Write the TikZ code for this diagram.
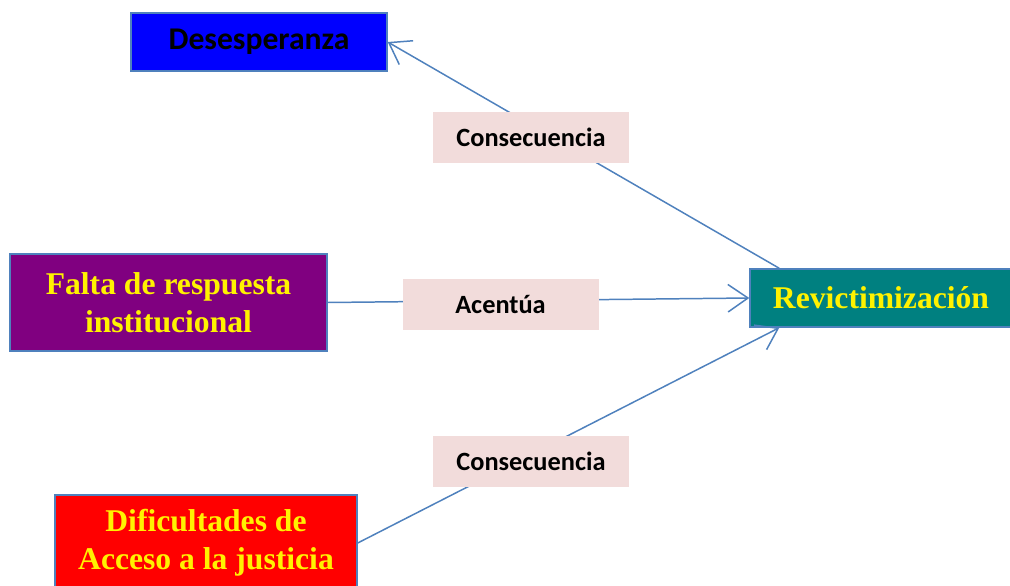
\documentclass[tikz,border=0pt]{standalone}
\usepackage{fontspec}
\setmainfont{Liberation Serif}
\newfontfamily\calibri{Carlito}
\usepackage{tikz}
\usetikzlibrary{arrows.meta,shapes}
\definecolor{linea}{RGB}{79,129,189}
\definecolor{rosa}{RGB}{242,220,219}
\definecolor{morado}{RGB}{128,0,128}
\definecolor{verdeazul}{RGB}{0,128,128}

\begin{document}
\begin{tikzpicture}[thick]
	\tikzstyle{box} = [rectangle, draw=linea, line width=0.8pt, text centered, align=center, font=\bfseries\fontsize{18}{21.5}\selectfont, text=yellow]
	\tikzstyle{lbl} = [rectangle, fill=rosa, minimum width=3.92cm, minimum height=1.02cm, font=\calibri\bfseries\fontsize{15}{17}\selectfont]
	\tikzstyle{line} = [draw=linea, line width=0.85pt, -{Straight Barb[length=4mm,width=5.5mm]}]
	\useasboundingbox (0,0) rectangle (20.2,-11.72);
	% boxes
	\node [box, fill=blue, text=black, font=\calibri\bfseries\fontsize{18}{20}\selectfont, minimum width=5.12cm, minimum height=1.16cm] (des) at (5.18,-0.84) {Desesperanza};
	\node [box, fill=morado, minimum width=6.34cm, minimum height=1.94cm] (fal) at (3.37,-6.05) {Falta de respuesta\\institucional};
	\node [box, fill=verdeazul, minimum width=5.24cm, minimum height=1.16cm] (rev) at (17.62,-5.96) {Revictimización};
	\node [box, fill=red, minimum width=6.04cm, minimum height=1.92cm] (dif) at (4.12,-10.86) {Dificultades de\\Acceso a la justicia};
	% arrows
	\path [line] ([xshift=0.6cm]rev.north west) -- (des.east);
	\path [line] (fal.east) -- (rev.west);
	\path [line] (dif.east) -- ([xshift=0.6cm]rev.south west);
	% labels
	\node [lbl] (c1) at (10.62,-2.75) {Consecuencia};
	\node [lbl] (ac) at (10.01,-6.08) {Acentúa};
	\node [lbl] (c2) at (10.62,-9.23) {Consecuencia};
\end{tikzpicture}
\end{document}
